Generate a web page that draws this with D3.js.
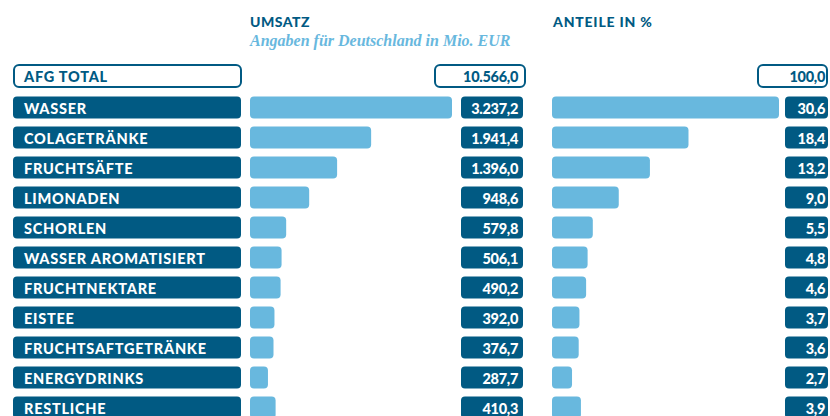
<!DOCTYPE html>
<html><head><meta charset="utf-8">
<script src="https://cdn.jsdelivr.net/npm/d3@7"></script>
<style>body{margin:0;background:#fff}svg{display:block}</style>
</head><body>
<svg id="c" width="830" height="416"></svg>
<script>
const categories = ["WASSER","COLAGETRÄNKE","FRUCHTSÄFTE","LIMONADEN","SCHORLEN","WASSER AROMATISIERT","FRUCHTNEKTARE","EISTEE","FRUCHTSAFTGETRÄNKE","ENERGYDRINKS","RESTLICHE"];
const umsatz = [3237.2,1941.4,1396.0,948.6,579.8,506.1,490.2,392.0,376.7,287.7,410.3];
const anteile = [30.6,18.4,13.2,9.0,5.5,4.8,4.6,3.7,3.6,2.7,3.9];
const totalLabel = "AFG TOTAL";
const totalUmsatz = 10566.0;
const totalAnteil = 100.0;

const dark = "#015a83", light = "#68b8de";
const font = "Lato, 'Noto Sans', sans-serif";
const svg = d3.select("#c");
const fmt1 = d3.formatLocale({decimal:",", thousands:".", grouping:[3]}).format(",.1f");

const step = 30, gap = 8;
const y = d3.scaleBand().domain(categories)
  .range([96.5, 96.5 + step*categories.length - gap]).paddingInner(gap/step).paddingOuter(0);
const bh = y.bandwidth();

const xU = d3.scaleLinear().domain([0, d3.max(umsatz)]).range([250, 452]);
const xA = d3.scaleLinear().domain([0, d3.max(anteile)]).range([552, 779]);

// headers
svg.append("text").attr("x",250).attr("y",27).text("UMSATZ")
  .attr("font-family",font).attr("font-weight",900).attr("font-size",14).attr("letter-spacing",0.5).attr("fill",dark);
svg.append("text").attr("x",250).attr("y",46).text("Angaben für Deutschland in Mio. EUR")
  .attr("font-family","'Liberation Serif', serif").attr("font-style","italic").attr("font-weight","bold")
  .attr("font-size",16).attr("fill",light);
svg.append("text").attr("x",553).attr("y",27).text("ANTEILE IN %")
  .attr("font-family",font).attr("font-weight",900).attr("font-size",14).attr("letter-spacing",0.8).attr("fill",dark);

const labelText = sel => sel.attr("font-family",font).attr("font-weight",900).attr("font-size",14.5).attr("letter-spacing",0.75);
const numText = sel => sel.attr("font-family",font).attr("font-weight",900).attr("font-size",14.5).attr("letter-spacing",-0.3).attr("text-anchor","end");

// total row
const tg = svg.append("g");
tg.append("rect").attr("x",14).attr("y",65).attr("width",227).attr("height",22).attr("rx",5)
  .attr("fill","#fff").attr("stroke",dark).attr("stroke-width",2);
tg.append("text").attr("x",24).attr("y",82).text(totalLabel).call(labelText).attr("fill",dark);
tg.append("rect").attr("x",435).attr("y",65).attr("width",90).attr("height",22).attr("rx",5)
  .attr("fill","#fff").attr("stroke",dark).attr("stroke-width",2);
tg.append("text").attr("x",518).attr("y",82).text(fmt1(totalUmsatz)).call(numText).attr("fill",dark);
tg.append("rect").attr("x",758).attr("y",65).attr("width",69).attr("height",22).attr("rx",5)
  .attr("fill","#fff").attr("stroke",dark).attr("stroke-width",2);
tg.append("text").attr("x",825).attr("y",82).text(fmt1(totalAnteil)).call(numText).attr("fill",dark);

const rows = svg.selectAll("g.row").data(categories).join("g").attr("class","row")
  .attr("transform", d => `translate(0,${y(d)})`);

rows.append("rect").attr("x",13).attr("y",0).attr("width",228).attr("height",bh).attr("rx",4).attr("fill",dark);
rows.append("text").attr("x",24).attr("y",17).text(d=>d).call(labelText).attr("fill","#fff");

rows.append("rect").attr("x",xU(0)).attr("y",0).attr("width",(d,i)=>xU(umsatz[i])-xU(0)).attr("height",bh).attr("rx",4).attr("fill",light);
rows.append("rect").attr("x",461).attr("y",0).attr("width",62).attr("height",bh).attr("rx",4).attr("fill",dark);
rows.append("text").attr("x",518).attr("y",17).text((d,i)=>fmt1(umsatz[i])).call(numText).attr("fill","#fff");

rows.append("rect").attr("x",xA(0)).attr("y",0).attr("width",(d,i)=>xA(anteile[i])-xA(0)).attr("height",bh).attr("rx",4).attr("fill",light);
rows.append("rect").attr("x",785).attr("y",0).attr("width",43).attr("height",bh).attr("rx",4).attr("fill",dark);
rows.append("text").attr("x",825).attr("y",17).text((d,i)=>fmt1(anteile[i])).call(numText).attr("fill","#fff");
</script>
</body></html>
